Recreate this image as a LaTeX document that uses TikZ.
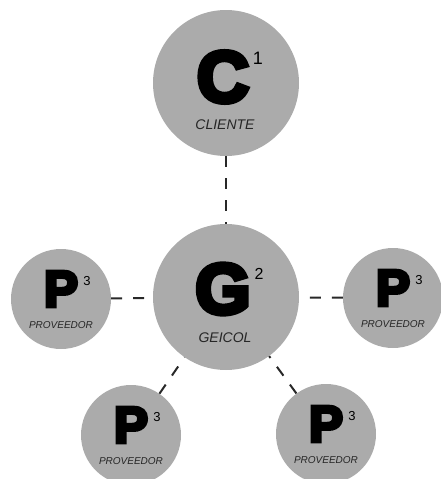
\documentclass[tikz,border=0pt]{standalone}
\usepackage{fontspec}
\setmainfont{Liberation Sans}
\newfontfamily\heavyfont{Liberation Sans}[BoldFeatures={FakeBold=7}]
\usetikzlibrary{calc}

\definecolor{discgray}{RGB}{171,171,171}
\definecolor{dashgray}{RGB}{40,40,40}

\tikzset{
	disc/.style={circle, fill=discgray, inner sep=0pt, minimum size=#1},
	link/.style={draw=dashgray, line width=2pt, dash pattern=on 11pt off 11pt},
	bigletter/.style={inner sep=0pt, font=\heavyfont\bfseries\fontsize{#1}{#1}\selectfont},
	supnum/.style={inner sep=0pt, font=\fontsize{#1}{#1}\selectfont},
	tag/.style={inner sep=0pt, text=black!85, font=\itshape\fontsize{#1}{#1}\selectfont}
}

\begin{document}
\begin{tikzpicture}[x=1pt,y=-1pt]
		\useasboundingbox (0,0) rectangle (440,479);
		\def\rbig{146pt}
		\def\rsmall{100pt}
		% cliente
		\node[disc=\rbig] (cliente) at (226,83) {};
		\node[bigletter=72pt] (cliente-l) at ($(cliente)+(-3,-6)$) {C};
		\node[supnum=18pt] (cliente-s) at ($(cliente)+(32,-25)$) {1};
		\node[tag=14pt] (cliente-t) at ($(cliente)+(-1,42)$) {CLIENTE};
		% geicol
		\node[disc=\rbig] (geicol) at (226,297) {};
		\node[bigletter=71pt] (geicol-l) at ($(geicol)+(-3,-8)$) {G};
		\node[supnum=16pt] (geicol-s) at ($(geicol)+(33,-23)$) {2};
		\node[tag=14pt] (geicol-t) at ($(geicol)+(-1,41)$) {GEICOL};
		\draw[link] (cliente) -- (geicol);
		% proveedores
		\foreach \name/\x/\y in {pizq/61/299, pder/393/298, pabi/131/435, pabd/326/434}
		{
			\node[disc=\rsmall] (\name) at (\x,\y) {};
			\node[bigletter=51pt] (\name-l) at ($(\name)+(0,-10)$) {P};
			\node[supnum=13pt] (\name-s) at ($(\name)+(26,-18)$) {3};
			\node[tag=10pt] (\name-t) at ($(\name)+(0,26)$) {PROVEEDOR};
			\draw[link] (\name) -- (geicol);
		}
	\end{tikzpicture}
\end{document}
